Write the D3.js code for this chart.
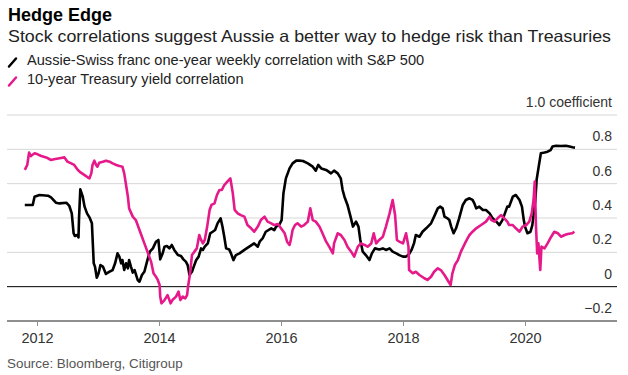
<!DOCTYPE html>
<html>
<head>
<meta charset="utf-8">
<script src="https://cdn.jsdelivr.net/npm/d3@7"></script>
<style>
  body { margin: 0; background: #fff; }
  svg { font-family: "Liberation Sans", Arial, sans-serif; }
</style>
</head>
<body>
<svg id="chart" width="628" height="375"></svg>
<script>
// decimal years + correlation values
var audYears = [2011.80,2011.93,2011.96,2012.04,2012.18,2012.23,2012.31,2012.37,2012.48,2012.53,2012.57,2012.60,2012.62,2012.66,2012.68,2012.69,2012.71,2012.75,2012.78,2012.82,2012.86,2012.90,2012.93,2012.95,2012.98,2013.01,2013.04,2013.08,2013.13,2013.19,2013.24,2013.28,2013.32,2013.35,2013.38,2013.40,2013.43,2013.46,2013.49,2013.51,2013.54,2013.57,2013.60,2013.65,2013.68,2013.72,2013.76,2013.81,2013.85,2013.90,2013.95,2013.99,2014.02,2014.06,2014.09,2014.13,2014.17,2014.21,2014.25,2014.31,2014.36,2014.40,2014.44,2014.47,2014.50,2014.54,2014.57,2014.61,2014.65,2014.69,2014.72,2014.75,2014.80,2014.84,2014.88,2014.92,2014.96,2015.01,2015.04,2015.07,2015.10,2015.15,2015.18,2015.22,2015.26,2015.32,2015.40,2015.48,2015.56,2015.62,2015.65,2015.70,2015.75,2015.84,2015.89,2015.92,2015.97,2016.01,2016.04,2016.08,2016.14,2016.19,2016.25,2016.30,2016.36,2016.44,2016.52,2016.57,2016.61,2016.66,2016.74,2016.82,2016.87,2016.93,2016.98,2017.01,2017.04,2017.09,2017.14,2017.18,2017.23,2017.27,2017.30,2017.34,2017.39,2017.45,2017.49,2017.54,2017.61,2017.67,2017.72,2017.78,2017.83,2017.89,2017.94,2018.00,2018.05,2018.10,2018.14,2018.18,2018.21,2018.27,2018.32,2018.38,2018.46,2018.51,2018.57,2018.61,2018.65,2018.68,2018.73,2018.76,2018.79,2018.83,2018.87,2018.92,2018.98,2019.03,2019.09,2019.14,2019.17,2019.20,2019.25,2019.31,2019.36,2019.42,2019.47,2019.53,2019.58,2019.63,2019.66,2019.71,2019.74,2019.80,2019.85,2019.91,2019.95,2019.98,2020.00,2020.04,2020.09,2020.12,2020.14,2020.17,2020.19,2020.22,2020.26,2020.32,2020.37,2020.42,2020.45,2020.51,2020.59,2020.67,2020.73,2020.78,2020.82];
var audValues = [0.476,0.476,0.524,0.534,0.530,0.520,0.489,0.485,0.489,0.470,0.427,0.311,0.295,0.301,0.287,0.408,0.567,0.524,0.466,0.427,0.404,0.369,0.136,0.117,0.052,0.078,0.126,0.117,0.074,0.087,0.097,0.136,0.194,0.175,0.136,0.155,0.097,0.136,0.107,0.155,0.117,0.082,0.097,0.039,0.029,0.068,0.087,0.155,0.204,0.223,0.262,0.272,0.159,0.194,0.233,0.237,0.223,0.243,0.214,0.184,0.179,0.159,0.146,0.126,0.068,0.087,0.117,0.155,0.175,0.223,0.214,0.233,0.252,0.311,0.320,0.330,0.369,0.398,0.350,0.291,0.223,0.217,0.194,0.155,0.184,0.194,0.214,0.233,0.252,0.233,0.262,0.282,0.320,0.340,0.330,0.350,0.359,0.388,0.544,0.631,0.689,0.718,0.734,0.734,0.732,0.718,0.699,0.676,0.709,0.689,0.680,0.660,0.676,0.660,0.631,0.563,0.524,0.476,0.408,0.350,0.379,0.350,0.272,0.204,0.184,0.155,0.194,0.223,0.217,0.223,0.214,0.223,0.204,0.194,0.184,0.175,0.175,0.190,0.214,0.252,0.301,0.291,0.320,0.340,0.369,0.408,0.456,0.466,0.456,0.408,0.398,0.388,0.350,0.311,0.340,0.398,0.476,0.505,0.515,0.505,0.485,0.456,0.466,0.447,0.447,0.427,0.398,0.379,0.359,0.388,0.417,0.466,0.466,0.524,0.534,0.505,0.466,0.388,0.350,0.311,0.320,0.359,0.417,0.505,0.621,0.689,0.777,0.781,0.786,0.796,0.816,0.821,0.819,0.821,0.816,0.812,0.810];

var tsyYears = [2011.80,2011.84,2011.87,2011.90,2011.96,2012.01,2012.07,2012.15,2012.23,2012.28,2012.37,2012.45,2012.50,2012.56,2012.61,2012.67,2012.72,2012.78,2012.83,2012.86,2012.89,2012.91,2012.94,2012.97,2012.99,2013.02,2013.08,2013.13,2013.19,2013.24,2013.30,2013.35,2013.40,2013.43,2013.46,2013.49,2013.51,2013.57,2013.62,2013.65,2013.71,2013.76,2013.81,2013.87,2013.91,2013.95,2013.98,2014.01,2014.02,2014.04,2014.09,2014.14,2014.19,2014.22,2014.28,2014.32,2014.35,2014.39,2014.43,2014.46,2014.48,2014.51,2014.54,2014.58,2014.62,2014.66,2014.69,2014.72,2014.75,2014.79,2014.83,2014.86,2014.91,2014.95,2014.99,2015.03,2015.07,2015.12,2015.17,2015.21,2015.24,2015.29,2015.34,2015.40,2015.45,2015.51,2015.56,2015.62,2015.67,2015.73,2015.78,2015.84,2015.89,2015.95,2016.00,2016.06,2016.10,2016.14,2016.16,2016.19,2016.23,2016.27,2016.33,2016.38,2016.44,2016.48,2016.52,2016.57,2016.63,2016.68,2016.74,2016.79,2016.85,2016.87,2016.93,2016.98,2017.04,2017.09,2017.15,2017.20,2017.26,2017.31,2017.37,2017.42,2017.48,2017.52,2017.56,2017.61,2017.67,2017.72,2017.78,2017.83,2017.87,2017.90,2017.94,2018.00,2018.05,2018.09,2018.10,2018.16,2018.21,2018.27,2018.35,2018.40,2018.46,2018.51,2018.57,2018.62,2018.68,2018.73,2018.78,2018.81,2018.85,2018.90,2018.95,2018.99,2019.03,2019.09,2019.14,2019.20,2019.28,2019.36,2019.42,2019.45,2019.50,2019.55,2019.61,2019.66,2019.71,2019.74,2019.80,2019.85,2019.91,2019.96,2020.02,2020.07,2020.11,2020.14,2020.16,2020.18,2020.20,2020.22,2020.25,2020.27,2020.32,2020.37,2020.43,2020.48,2020.54,2020.59,2020.65,2020.70,2020.77,2020.81];
var tsyValues = [0.680,0.709,0.781,0.761,0.777,0.771,0.761,0.753,0.738,0.742,0.748,0.753,0.728,0.718,0.709,0.680,0.664,0.650,0.637,0.631,0.660,0.709,0.734,0.709,0.699,0.722,0.728,0.734,0.728,0.718,0.709,0.703,0.699,0.660,0.592,0.524,0.456,0.408,0.388,0.359,0.301,0.252,0.204,0.146,0.078,0.058,0.039,0.010,-0.058,-0.097,-0.078,-0.049,-0.097,-0.078,-0.058,-0.029,-0.078,-0.058,-0.068,-0.049,0.010,0.078,0.184,0.204,0.223,0.301,0.272,0.252,0.272,0.350,0.447,0.476,0.485,0.534,0.563,0.563,0.592,0.612,0.631,0.544,0.447,0.427,0.417,0.408,0.359,0.340,0.320,0.350,0.388,0.408,0.379,0.369,0.359,0.365,0.340,0.311,0.262,0.243,0.272,0.330,0.359,0.369,0.350,0.359,0.379,0.456,0.388,0.379,0.350,0.311,0.262,0.233,0.194,0.252,0.311,0.301,0.272,0.233,0.204,0.175,0.233,0.252,0.243,0.233,0.252,0.311,0.252,0.272,0.291,0.350,0.427,0.505,0.417,0.272,0.262,0.252,0.311,0.233,0.097,0.078,0.087,0.068,0.049,0.039,0.058,0.087,0.107,0.097,0.068,0.039,0.010,0.078,0.126,0.155,0.204,0.233,0.262,0.301,0.320,0.340,0.359,0.379,0.408,0.388,0.379,0.398,0.417,0.398,0.379,0.359,0.359,0.340,0.320,0.350,0.359,0.379,0.427,0.505,0.612,0.350,0.194,0.252,0.097,0.233,0.223,0.252,0.291,0.320,0.311,0.291,0.301,0.307,0.311,0.320];

var yearTicks = [2012, 2014, 2016, 2018, 2020];
var valueTicks = [-0.2, 0, 0.2, 0.4, 0.6, 0.8, 1.0];
var legendLabels = ["Aussie-Swiss franc one-year weekly correlation with S&P 500", "10-year Treasury yield correlation"];
var colors = ["#000000", "#e6198a"];

var svg = d3.select("#chart");

var x = d3.scaleLinear().domain([2012, 2020]).range([37, 525]);
var y = d3.scaleLinear().domain([-0.2, 1.0]).range([321, 115]);
var left = 7, right = 617;

// title block
svg.append("text").attr("x", 8).attr("y", 21)
  .attr("font-size", 18).attr("font-weight", "bold").attr("fill", "#000")
  .text("Hedge Edge");
svg.append("text").attr("x", 8).attr("y", 42)
  .attr("font-size", 16.5).attr("fill", "#222")
  .attr("textLength", 603).attr("lengthAdjust", "spacingAndGlyphs")
  .text("Stock correlations suggest Aussie a better way to hedge risk than Treasuries");

// legend
var leg = svg.selectAll(".leg").data(legendLabels).enter().append("g")
  .attr("class", "leg")
  .attr("transform", function(d, i) { return "translate(0," + (64.5 + i * 19) + ")"; });
leg.append("line")
  .attr("x1", 9).attr("y1", 2).attr("x2", 16).attr("y2", -6)
  .attr("stroke", function(d, i) { return colors[i]; })
  .attr("stroke-width", 2.5).attr("stroke-linecap", "round");
leg.append("text").attr("x", 27).attr("y", 0)
  .attr("font-size", 14.6).attr("fill", "#222")
  .text(function(d) { return d; });

// gridlines
svg.selectAll(".grid").data(valueTicks.filter(function(v) { return v > -0.2; })).enter()
  .append("line")
  .attr("x1", left).attr("x2", right)
  .attr("y1", function(d) { return y(d); }).attr("y2", function(d) { return y(d); })
  .attr("stroke", function(d) { return d === 0 ? "#000" : "#d6d6d6"; })
  .attr("stroke-width", 1);

// right side value labels
svg.selectAll(".vlab").data(valueTicks).enter().append("text")
  .attr("x", 612).attr("y", function(d) { return y(d) - 8; })
  .attr("text-anchor", "end").attr("font-size", 14).attr("fill", "#333")
  .text(function(d) { return d === 1 ? "1.0 coefficient" : (d === 0 ? "0" : d3.format(".1f")(d)); });

// bottom axis
var xAxis = d3.axisBottom(x).tickValues(yearTicks).tickFormat(d3.format("d"))
  .tickSize(5).tickPadding(7);
var ax = svg.append("g").attr("transform", "translate(0," + y(-0.2) + ")").call(xAxis);
ax.select(".domain").remove();
ax.insert("line", ":first-child").attr("x1", left).attr("x2", right)
  .attr("stroke", "#8f8f8f").attr("stroke-width", 2.2);
ax.selectAll(".tick line").attr("stroke", "#8f8f8f");
ax.selectAll(".tick text").attr("font-size", 14.5).attr("fill", "#333")
  .attr("font-family", "Liberation Sans, Arial, sans-serif");

// lines
var line = d3.line()
  .x(function(d) { return x(d[0]); })
  .y(function(d) { return y(d[1]); });

svg.append("path")
  .datum(d3.zip(audYears, audValues))
  .attr("fill", "none").attr("stroke", colors[0]).attr("stroke-width", 2.6)
  .attr("stroke-linejoin", "round")
  .attr("d", line);

svg.append("path")
  .datum(d3.zip(tsyYears, tsyValues))
  .attr("fill", "none").attr("stroke", colors[1]).attr("stroke-width", 2.6)
  .attr("stroke-linejoin", "round")
  .attr("d", line);

// source
svg.append("text").attr("x", 7).attr("y", 368)
  .attr("font-size", 13.4).attr("fill", "#555")
  .text("Source: Bloomberg, Citigroup");
</script>
</body>
</html>
